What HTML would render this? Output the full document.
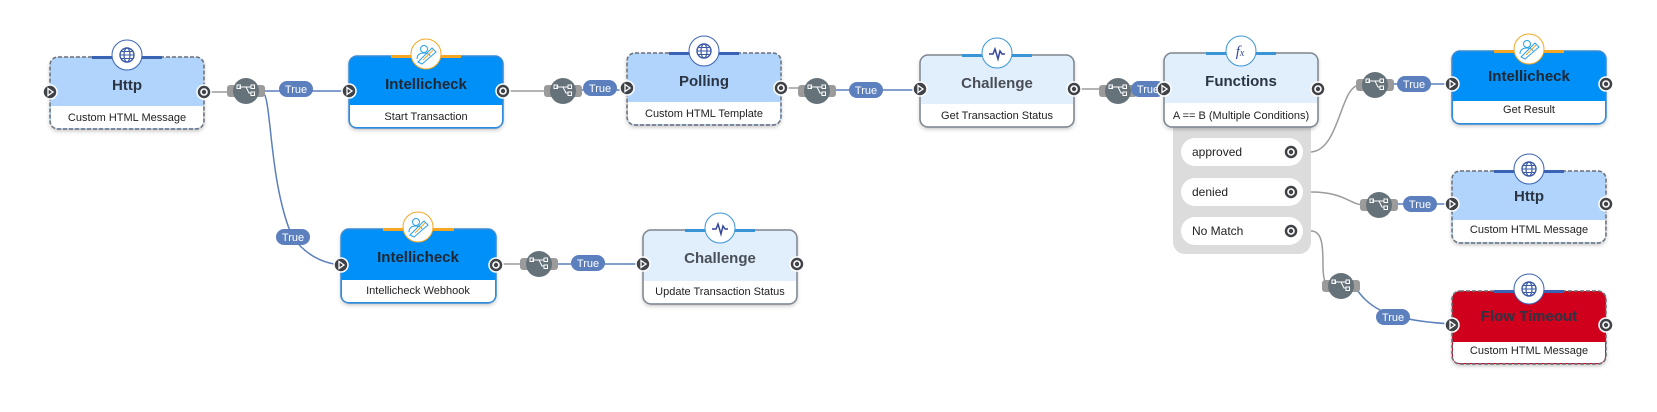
<!DOCTYPE html>
<html><head><meta charset="utf-8"><style>
html,body{margin:0;padding:0;background:#fff;width:1657px;height:412px;overflow:hidden}
svg{display:block;font-family:"Liberation Sans",Arial,sans-serif}
.t{font-size:15px;font-weight:bold;fill:#2b3442;text-anchor:middle}
.f{font-size:11px;fill:#222;text-anchor:middle}
.lb{font-size:11px;fill:#fff;text-anchor:middle}
.r{font-size:12px;fill:#222}
</style></head><body>
<svg width="1657" height="412" viewBox="0 0 1657 412">
<defs>
<filter id="sh" x="-10%" y="-10%" width="120%" height="130%"><feDropShadow dx="0" dy="2" stdDeviation="2" flood-color="#000" flood-opacity="0.25"/></filter>
<g id="inp"><circle r="7" fill="#3f4348" stroke="#fff" stroke-width="1.5"/><path d="M-2,-3.5 L3,0 L-2,3.5 Z" fill="none" stroke="#fff" stroke-width="1.3"/></g>
<g id="outp"><circle r="7" fill="#3f4348" stroke="#fff" stroke-width="1.5"/><circle r="3" fill="none" stroke="#fff" stroke-width="1.6"/></g>
<g id="br"><rect x="-19" y="-6" width="38" height="12" rx="3" fill="#9b9b9b"/><circle r="13" fill="#66727a"/><path d="M-7,-4 h4 M-3,-4 h3 l3,6 h2 M0,-4 h5" stroke="#fff" stroke-width="1" fill="none"/><rect x="-9" y="-6" width="3.5" height="3.5" fill="none" stroke="#fff" stroke-width="1"/><rect x="5" y="-6" width="3.5" height="3.5" fill="none" stroke="#fff" stroke-width="1"/><rect x="5" y="1" width="3.5" height="3.5" fill="none" stroke="#fff" stroke-width="1"/></g>
<g id="tl"><rect x="-17" y="-8" width="34" height="16" rx="8" fill="#5c7fbd"/><text class="lb" y="4">True</text></g>
<g id="globe"><circle r="15" fill="#fff" stroke="#3a63b5" stroke-width="1"/><circle r="7" fill="none" stroke="#3a5aa8" stroke-width="1.4"/><ellipse rx="3" ry="7" fill="none" stroke="#3a5aa8" stroke-width="1.2"/><path d="M-7,0 H7 M-6,-3.5 H6 M-6,3.5 H6" stroke="#3a5aa8" stroke-width="1.1"/></g>
<g id="intl"><circle r="15" fill="#fff" stroke="#f5a623" stroke-width="1"/><circle cx="-2" cy="-5" r="3.5" fill="none" stroke="#2aa0e8" stroke-width="1"/><path d="M-9,5 q0,-6 7,-6 q5,0 6,3 M-8,8 L6,-6 L10,-2 L-4,10 Z" fill="none" stroke="#2aa0e8" stroke-width="1"/><path d="M-3,6 L7,-4" stroke="#f5a623" stroke-width="1"/></g>
<g id="chal"><circle r="15" fill="#fff" stroke="#3a95d6" stroke-width="1"/><path d="M-8,1 H-4 L-2,-4 L1,6 L3,-2 L5,1 H8" fill="none" stroke="#34469a" stroke-width="1.5"/></g>
<g id="fx"><circle r="15" fill="#fff" stroke="#3a95d6" stroke-width="1"/><text x="-1" y="5" style="font-family:'Liberation Serif',serif;font-style:italic;font-size:15px;fill:#34469a;text-anchor:middle">f<tspan font-size="10">x</tspan></text></g>
</defs>

<!-- connectors -->
<g fill="none" stroke-width="1.5">
<path d="M204 92 H230" stroke="#9b9b9b"/>
<path d="M262 91 H349" stroke="#5c7fbd"/>
<path d="M262 92 C272 92 268 180 292 236 Q310 262 341 265" stroke="#5c7fbd"/>
<path d="M503 91 H545" stroke="#9b9b9b"/>
<path d="M580 90 H627" stroke="#5c7fbd"/>
<path d="M781 88 H800" stroke="#9b9b9b"/>
<path d="M834 90 H920" stroke="#5c7fbd"/>
<path d="M1074 89 H1100" stroke="#9b9b9b"/>
<path d="M1135 89 H1164" stroke="#5c7fbd"/>
<path d="M1311 152 C1340 150 1340 85 1360 85" stroke="#9b9b9b"/>
<path d="M1392 84 H1452" stroke="#5c7fbd"/>
<path d="M1311 192 C1345 192 1350 205 1364 205" stroke="#9b9b9b"/>
<path d="M1396 204 H1452" stroke="#5c7fbd"/>
<path d="M1311 231 C1322 231 1323 245 1323 265 Q1323 286 1330 286" stroke="#9b9b9b"/>
<path d="M1354 286 C1368 305 1380 320 1452 324" stroke="#5c7fbd"/>
<path d="M496 264 H522" stroke="#9b9b9b"/>
<path d="M556 264 H643" stroke="#5c7fbd"/>
</g>

<!-- function conditions panel -->
<rect x="1173" y="118" width="138" height="136" rx="12" fill="#dcdcdc"/>
<rect x="1181" y="138" width="122" height="28" rx="14" fill="#fff"/>
<text class="r" x="1192" y="156">approved</text>
<use href="#outp" x="1291" y="152"/>
<rect x="1181" y="178" width="122" height="28" rx="14" fill="#fff"/>
<text class="r" x="1192" y="196">denied</text>
<use href="#outp" x="1291" y="192"/>
<rect x="1181" y="217" width="122" height="28" rx="14" fill="#fff"/>
<text class="r" x="1192" y="235">No Match</text>
<use href="#outp" x="1291" y="231"/>

<!-- Node: Http 1 -->
<g transform="translate(50,57)">
<rect width="154" height="72" rx="8" fill="#b0d4fb" filter="url(#sh)"/>
<path d="M1 49 H153 V64 Q153 71 146 71 H8 Q1 71 1 64 Z" fill="#fff"/>
<rect width="154" height="72" rx="8" fill="none" stroke="#6b7078" stroke-width="1.5" stroke-dasharray="4 2"/>
<line x1="42" y1="0.5" x2="112" y2="0.5" stroke="#3a63b5" stroke-width="3"/>
<use href="#globe" x="77" y="-2"/>
<text class="t" x="77" y="33">Http</text>
<text class="f" x="77" y="64">Custom HTML Message</text>
<use href="#inp" x="0" y="35"/><use href="#outp" x="154" y="35"/>
</g>

<!-- Intellicheck 1 -->
<g transform="translate(349,56)">
<rect width="154" height="72" rx="8" fill="#0090f8" filter="url(#sh)"/>
<path d="M1 49 H153 V64 Q153 71 146 71 H8 Q1 71 1 64 Z" fill="#fff"/>
<rect width="154" height="72" rx="8" fill="none" stroke="#3a8ad6" stroke-width="1.5"/>
<line x1="42" y1="0.5" x2="112" y2="0.5" stroke="#f5a623" stroke-width="3"/>
<use href="#intl" x="77" y="-2"/>
<text class="t" x="77" y="33" style="fill:#1e2630">Intellicheck</text>
<text class="f" x="77" y="64">Start Transaction</text>
<use href="#inp" x="0" y="35"/><use href="#outp" x="154" y="35"/>
</g>

<!-- Polling -->
<g transform="translate(627,53)">
<rect width="154" height="72" rx="8" fill="#b0d4fb" filter="url(#sh)"/>
<path d="M1 49 H153 V64 Q153 71 146 71 H8 Q1 71 1 64 Z" fill="#fff"/>
<rect width="154" height="72" rx="8" fill="none" stroke="#6b7078" stroke-width="1.5" stroke-dasharray="4 2"/>
<line x1="42" y1="0.5" x2="112" y2="0.5" stroke="#3a63b5" stroke-width="3"/>
<use href="#globe" x="77" y="-2"/>
<text class="t" x="77" y="33">Polling</text>
<text class="f" x="77" y="64">Custom HTML Template</text>
<use href="#inp" x="0" y="35"/><use href="#outp" x="154" y="35"/>
</g>

<!-- Challenge 1 -->
<g transform="translate(920,55)">
<rect width="154" height="72" rx="8" fill="#e1eefc" filter="url(#sh)"/>
<path d="M1 49 H153 V64 Q153 71 146 71 H8 Q1 71 1 64 Z" fill="#fff"/>
<rect width="154" height="72" rx="8" fill="none" stroke="#7d858e" stroke-width="1.5"/>
<line x1="42" y1="0.5" x2="112" y2="0.5" stroke="#3a95d6" stroke-width="3"/>
<use href="#chal" x="77" y="-2"/>
<text class="t" x="77" y="33" style="fill:#4a4f57">Challenge</text>
<text class="f" x="77" y="64">Get Transaction Status</text>
<use href="#inp" x="0" y="34"/><use href="#outp" x="154" y="34"/>
</g>

<!-- Functions -->
<g transform="translate(1164,53)">
<rect width="154" height="74" rx="8" fill="#e1eefc" filter="url(#sh)"/>
<path d="M1 50 H153 V66 Q153 73 146 73 H8 Q1 73 1 66 Z" fill="#fff"/>
<rect width="154" height="74" rx="8" fill="none" stroke="#7d858e" stroke-width="1.5"/>
<line x1="42" y1="0.5" x2="112" y2="0.5" stroke="#3a95d6" stroke-width="3"/>
<use href="#fx" x="77" y="-2"/>
<text class="t" x="77" y="33">Functions</text>
<text class="f" x="77" y="66">A == B (Multiple Conditions)</text>
<use href="#inp" x="0" y="36"/><use href="#outp" x="154" y="36"/>
</g>

<!-- Intellicheck 3 -->
<g transform="translate(1452,51)">
<rect width="154" height="73" rx="8" fill="#0090f8" filter="url(#sh)"/>
<path d="M1 50 H153 V65 Q153 72 146 72 H8 Q1 72 1 65 Z" fill="#fff"/>
<rect width="154" height="73" rx="8" fill="none" stroke="#3a8ad6" stroke-width="1.5"/>
<line x1="42" y1="0.5" x2="112" y2="0.5" stroke="#f5a623" stroke-width="3"/>
<use href="#intl" x="77" y="-2"/>
<text class="t" x="77" y="30" style="fill:#1e2630">Intellicheck</text>
<text class="f" x="77" y="62">Get Result</text>
<use href="#inp" x="0" y="33"/><use href="#outp" x="154" y="33"/>
</g>

<!-- Http 2 -->
<g transform="translate(1452,171)">
<rect width="154" height="72" rx="8" fill="#b0d4fb" filter="url(#sh)"/>
<path d="M1 49 H153 V64 Q153 71 146 71 H8 Q1 71 1 64 Z" fill="#fff"/>
<rect width="154" height="72" rx="8" fill="none" stroke="#6b7078" stroke-width="1.5" stroke-dasharray="4 2"/>
<line x1="42" y1="0.5" x2="112" y2="0.5" stroke="#3a63b5" stroke-width="3"/>
<use href="#globe" x="77" y="-2"/>
<text class="t" x="77" y="30">Http</text>
<text class="f" x="77" y="62">Custom HTML Message</text>
<use href="#inp" x="0" y="33"/><use href="#outp" x="154" y="33"/>
</g>

<!-- Flow Timeout -->
<g transform="translate(1452,291)">
<rect width="154" height="73" rx="8" fill="#d0021b" filter="url(#sh)"/>
<path d="M1 51 H153 V65 Q153 72 146 72 H8 Q1 72 1 65 Z" fill="#fff"/>
<rect width="154" height="73" rx="8" fill="none" stroke="#6b7078" stroke-width="1.5" stroke-dasharray="4 2"/>
<line x1="42" y1="0.5" x2="112" y2="0.5" stroke="#3a63b5" stroke-width="3"/>
<use href="#globe" x="77" y="-2"/>
<text class="t" x="77" y="30" style="fill:#2b3442">Flow Timeout</text>
<text class="f" x="77" y="63">Custom HTML Message</text>
<use href="#inp" x="0" y="34"/><use href="#outp" x="154" y="34"/>
</g>

<!-- Intellicheck Webhook -->
<g transform="translate(341,229)">
<rect width="155" height="74" rx="8" fill="#0090f8" filter="url(#sh)"/>
<path d="M1 51 H154 V66 Q154 73 147 73 H8 Q1 73 1 66 Z" fill="#fff"/>
<rect width="155" height="74" rx="8" fill="none" stroke="#3a8ad6" stroke-width="1.5"/>
<line x1="42" y1="0.5" x2="113" y2="0.5" stroke="#f5a623" stroke-width="3"/>
<use href="#intl" x="77" y="-2"/>
<text class="t" x="77" y="33" style="fill:#1e2630">Intellicheck</text>
<text class="f" x="77" y="65">Intellicheck Webhook</text>
<use href="#inp" x="0" y="36"/><use href="#outp" x="155" y="36"/>
</g>

<!-- Challenge 2 -->
<g transform="translate(643,230)">
<rect width="154" height="74" rx="8" fill="#e1eefc" filter="url(#sh)"/>
<path d="M1 51 H153 V66 Q153 73 146 73 H8 Q1 73 1 66 Z" fill="#fff"/>
<rect width="154" height="74" rx="8" fill="none" stroke="#7d858e" stroke-width="1.5"/>
<line x1="42" y1="0.5" x2="112" y2="0.5" stroke="#3a95d6" stroke-width="3"/>
<use href="#chal" x="77" y="-2"/>
<text class="t" x="77" y="33" style="fill:#4a4f57">Challenge</text>
<text class="f" x="77" y="65">Update Transaction Status</text>
<use href="#inp" x="0" y="34"/><use href="#outp" x="154" y="34"/>
</g>

<!-- branches & labels -->
<use href="#br" x="246" y="91"/><use href="#tl" x="296" y="89"/>
<use href="#tl" x="293" y="237"/>
<use href="#br" x="563" y="91"/><use href="#tl" x="600" y="88"/>
<use href="#br" x="817" y="91"/><use href="#tl" x="866" y="90"/>
<use href="#br" x="1118" y="91"/><use href="#tl" x="1148" y="89"/>
<use href="#inp" x="1164" y="89"/>
<use href="#br" x="1375" y="85"/><use href="#tl" x="1414" y="84"/>
<use href="#br" x="1379" y="205"/><use href="#tl" x="1420" y="204"/>
<use href="#br" x="1341" y="286"/><use href="#tl" x="1393" y="317"/>
<use href="#br" x="539" y="264"/><use href="#tl" x="588" y="263"/>
</svg>
</body></html>
